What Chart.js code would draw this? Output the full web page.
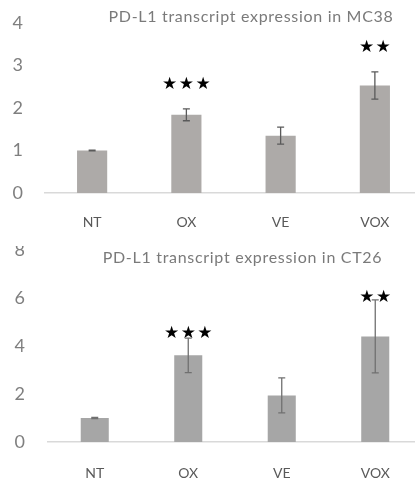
<!DOCTYPE html>
<html><head><meta charset="utf-8">
<script src="https://cdn.jsdelivr.net/npm/chart.js@4.4.1/dist/chart.umd.min.js"></script>
<style>
html,body{margin:0;padding:0;background:#fff;overflow:hidden;width:415px;height:481px}
#w1{position:absolute;left:0;top:0;width:425px;height:246px;overflow:hidden}
#w2{position:absolute;left:0;top:246px;width:425px;height:235px;overflow:hidden}
#c1{position:absolute;left:0;top:0}
#c2{position:absolute;left:0;top:-13px}
</style></head>
<body>
<div id="w1"><canvas id="c1" width="425" height="246"></canvas></div>
<div id="w2"><canvas id="c2" width="425" height="248"></canvas></div>
<script>
const categories = ['NT', 'OX', 'VE', 'VOX'];

const mc38Title = 'PD-L1 transcript expression in MC38';
const mc38Mean = [1.0, 1.84, 1.35, 2.53];
const mc38Err = [0.01, 0.14, 0.20, 0.32];
const mc38Stars = ['', '★★★', '', '★★'];
const mc38StarY = [null, 2.54, null, 3.42];
const mc38Ticks = [0, 1, 2, 3, 4];

const ct26Title = 'PD-L1 transcript expression in CT26';
const ct26Mean = [1.0, 3.61, 1.94, 4.40];
const ct26Err = [0.02, 0.72, 0.73, 1.52];
const ct26Stars = ['', '★★★', '', '★★'];
const ct26StarY = [null, 4.51, null, 6.01];
const ct26Ticks = [0, 2, 4, 6, 8];

const annot = {
  id: 'annot',
  afterDatasetsDraw(chart, args, o) {
    const {ctx} = chart;
    const x = chart.scales.x, y = chart.scales.y;
    ctx.save();
    ctx.strokeStyle = o.errColor;
    ctx.lineWidth = 1.3;
    o.mean.forEach((m, i) => {
      const e = o.err[i];
      if (!e) return;
      const cx = x.getPixelForValue(i);
      const yt = y.getPixelForValue(m + e), yb = y.getPixelForValue(m - e);
      ctx.beginPath();
      ctx.moveTo(cx, yt); ctx.lineTo(cx, yb);
      ctx.moveTo(cx - o.cap, yt); ctx.lineTo(cx + o.cap, yt);
      ctx.moveTo(cx - o.cap, yb); ctx.lineTo(cx + o.cap, yb);
      ctx.stroke();
    });
    ctx.fillStyle = '#000';
    ctx.font = '17px "DejaVu Sans"';
    ctx.textAlign = 'center';
    ctx.textBaseline = 'middle';
    o.stars.forEach((s, i) => {
      if (!s) return;
      const chars = [...s];
      const n = chars.length;
      const cx = x.getPixelForValue(i);
      const cy = y.getPixelForValue(o.starY[i]);
      chars.forEach((ch, k) => ctx.fillText(ch, cx + (k - (n - 1) / 2) * 16.7, cy));
    });
    ctx.fillStyle = '#7a7a7a';
    ctx.font = '16px Lato';
    if ('letterSpacing' in ctx) ctx.letterSpacing = '0.7px';
    ctx.fillText(o.title, o.titleX, o.titleY);
    ctx.restore();
  }
};

function makeChart(id, mean, err, stars, starY, ticks, title, L) {
  return new Chart(document.getElementById(id), {
    type: 'bar',
    data: {
      labels: categories,
      datasets: [{
        data: mean,
        backgroundColor: L.barColor,
        borderWidth: 0,
        categoryPercentage: 1,
        barPercentage: L.barPct
      }]
    },
    options: {
      responsive: false,
      animation: false,
      layout: {padding: {top: L.padTop, right: 3, left: 0, bottom: 0}},
      plugins: {
        legend: {display: false},
        tooltip: {enabled: false},
        annot: {mean, err, stars, starY, title, titleX: L.titleX, titleY: L.titleY, errColor: L.errColor, cap: 3.5}
      },
      scales: {
        x: {
          grid: {display: false, drawTicks: false},
          border: {display: true, color: '#d9d9d9', width: 1.5},
          ticks: {color: '#595959', font: {family: 'Lato', size: 14}, padding: L.xPad},
          afterFit: s => { s.height = L.xHeight; s.paddingLeft = 0; s.paddingRight = 0; }
        },
        y: {
          min: ticks[0],
          max: ticks[ticks.length - 1],
          afterBuildTicks: s => { s.ticks = ticks.map(v => ({value: v})); },
          grid: {display: false, drawTicks: false},
          border: {display: false},
          ticks: {color: '#7f7f7f', font: {family: 'Lato', size: 18}, padding: L.yPad},
          afterFit: s => { s.width = L.yWidth; s.paddingTop = 0; s.paddingBottom = 0; }
        }
      }
    },
    plugins: [annot]
  });
}

makeChart('c1', mc38Mean, mc38Err, mc38Stars, mc38StarY, mc38Ticks, mc38Title,
  {barColor: '#adaaa8', barPct: 0.32, padTop: 23, xHeight: 53, xPad: 21, yWidth: 45, yPad: 22,
   titleX: 251, titleY: 17, errColor: '#5a5a5a'});
makeChart('c2', ct26Mean, ct26Err, ct26Stars, ct26StarY, ct26Ticks, ct26Title,
  {barColor: '#a6a6a6', barPct: 0.30, padTop: 17, xHeight: 39, xPad: 23, yWidth: 48, yPad: 23,
   titleX: 242.5, titleY: 25, errColor: '#707070'});
</script>
</body></html>
